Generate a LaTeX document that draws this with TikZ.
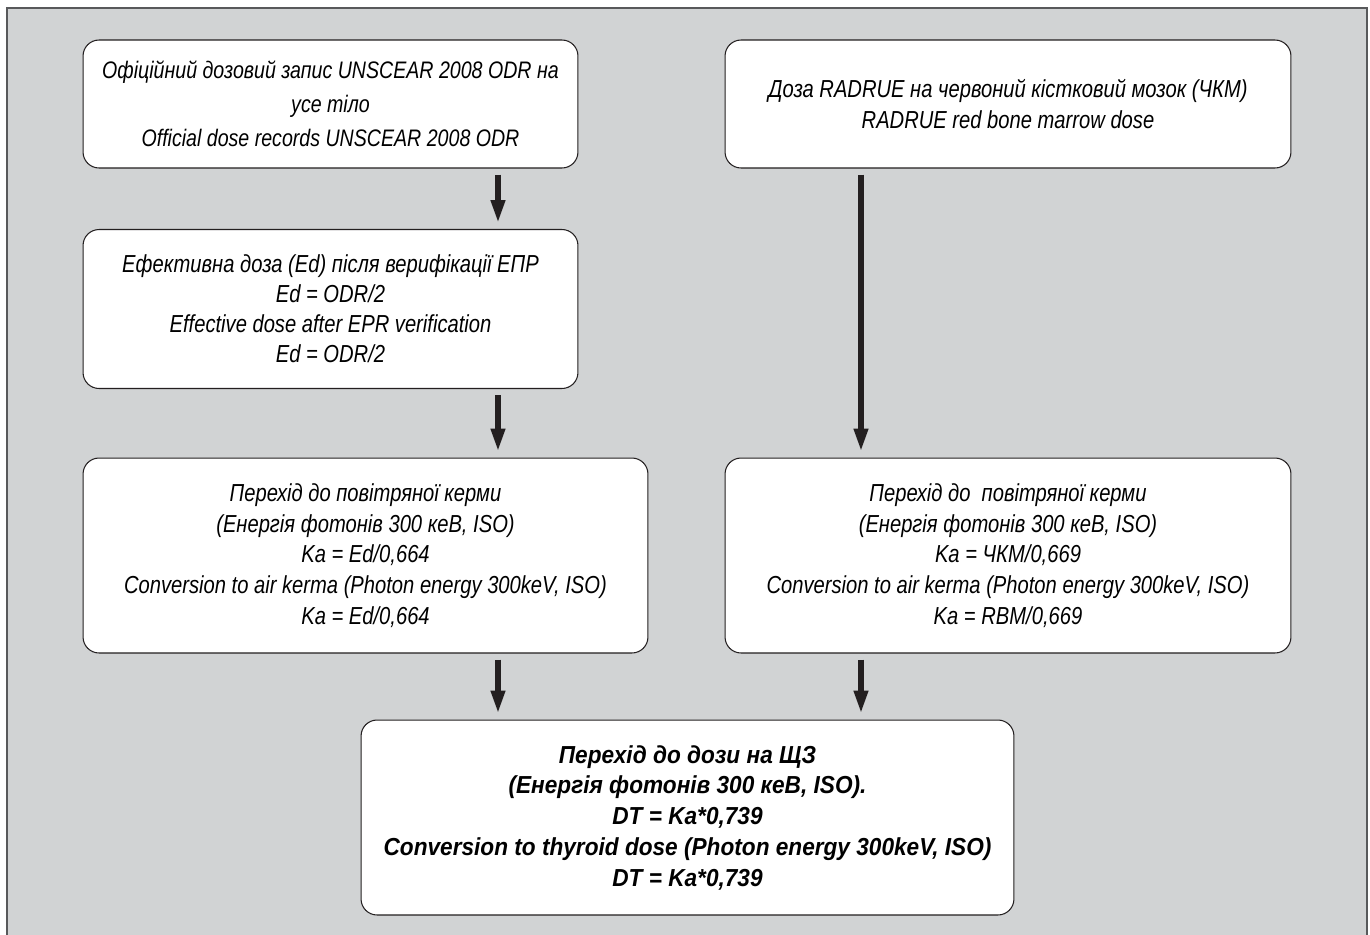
\documentclass[tikz,border=0pt]{standalone}
\usepackage{fontspec}
\setmainfont{Liberation Sans}[FakeStretch=0.82,
  BoldItalicFeatures={FakeStretch=0.92}]
\usetikzlibrary{arrows.meta}
\definecolor{panel}{HTML}{D1D3D4}
\definecolor{ink}{HTML}{231F20}
\definecolor{rim}{HTML}{58595B}

\begin{document}
\begin{tikzpicture}[x=0.02cm, y=-0.02cm,
    box/.style={draw=ink, line width=0.6pt, fill=white, rounded corners=0.32cm,
      align=center, inner sep=0pt, font=\itshape\fontsize{14}{17.5}\selectfont},
    boldbox/.style={box, font=\bfseries\itshape\fontsize{14}{17.5}\selectfont},
    arr/.style={-{Triangle[length=0.46cm, width=0.27cm]}, line width=0.11cm, draw=ink,
      shorten <=0.12cm, shorten >=0.12cm}]
  \useasboundingbox (0,0) rectangle (1370,934);
  \draw[rim, line width=1pt, fill=panel] (7,8) rectangle (1367,945);

  \coordinate (colL) at (498,0);
  \coordinate (colR) at (861,0);

  \node[box, font=\itshape\fontsize{13.6}{19.5}\selectfont,
    minimum width=9.9cm, minimum height=2.56cm] (odr) at (330.5,104)
    {Офіційний дозовий запис UNSCEAR 2008 ODR на\\ усе тіло\\ Official dose records UNSCEAR 2008 ODR};
  \node[box, minimum width=11.32cm, minimum height=2.56cm] (rbm) at (1008,104)
    {Доза RADRUE на червоний кістковий мозок (ЧКМ)\\ RADRUE red bone marrow dose};
  \node[box, font=\itshape\fontsize{14}{17}\selectfont,
    minimum width=9.9cm, minimum height=3.18cm] (ed) at (330.5,309)
    {Ефективна доза (Ed) після верифікації ЕПР\\ Ed = ODR/2\\ Effective dose after EPR verification\\ Ed = ODR/2};
  \node[box, minimum width=11.3cm, minimum height=3.9cm] (kaL) at (365.5,555.5)
    {Перехід до повітряної керми\\ (Енергія фотонів 300 кеВ, ISO)\\ Ka = Ed/0,664\\
     Conversion to air kerma (Photon energy 300keV, ISO)\\ Ka = Ed/0,664};
  \node[box, minimum width=11.32cm, minimum height=3.9cm] (kaR) at (1008,555.5)
    {Перехід до \ повітряної керми\\ (Енергія фотонів 300 кеВ, ISO)\\ Ka = ЧКМ/0,669\\
     Conversion to air kerma (Photon energy 300keV, ISO)\\ Ka = RBM/0,669};
  \node[boldbox, minimum width=13.06cm, minimum height=3.9cm] (dt) at (687.5,817.5)
    {Перехід до дози на ЩЗ\\ (Енергія фотонів 300 кеВ, ISO).\\ DT = Ka*0,739\\
     Conversion to thyroid dose (Photon energy 300keV, ISO)\\ DT = Ka*0,739};

  \draw[arr] (odr.south -| colL) -- (ed.north -| colL);
  \draw[arr] (ed.south -| colL) -- (kaL.north -| colL);
  \draw[arr] (kaL.south -| colL) -- (dt.north -| colL);
  \draw[arr] (rbm.south -| colR) -- (kaR.north -| colR);
  \draw[arr] (kaR.south -| colR) -- (dt.north -| colR);
\end{tikzpicture}
\end{document}
